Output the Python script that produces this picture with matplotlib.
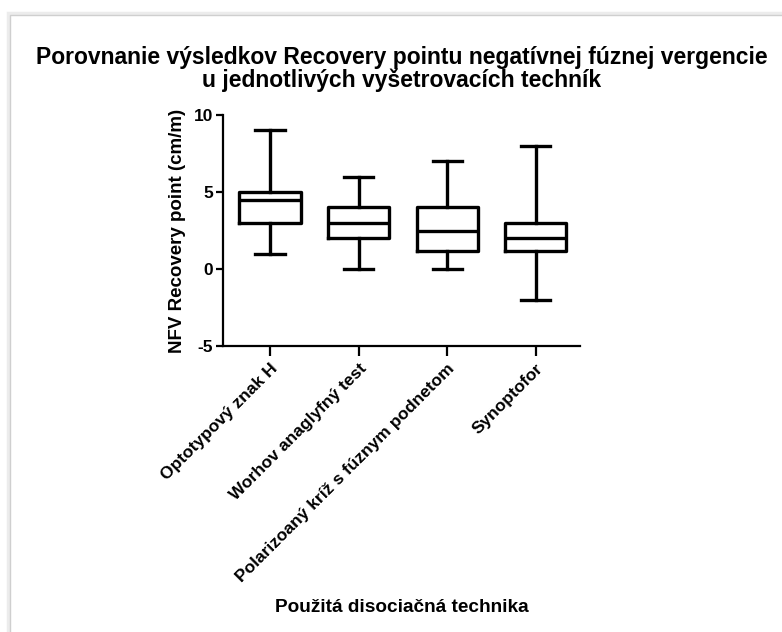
import matplotlib
matplotlib.use("Agg")
import matplotlib.pyplot as plt
from matplotlib.patches import Rectangle

categories = ["Optotypový znak H", "Worhov anaglyfný test",
              "Polarizoaný kríž s fúznym podnetom", "Synoptofor"]
whisker_low = [1, 0, 0, -2]
q1 = [3, 2, 1.2, 1.2]
median = [4.5, 3, 2.5, 2]
q3 = [5, 4, 4, 3]
whisker_high = [9, 6, 7, 8]

title = "Porovnanie výsledkov Recovery pointu negatívnej fúznej vergencie\nu jednotlivých vyšetrovacích techník"
ylabel = "NFV Recovery point (cm/m)"
xlabel = "Použitá disociačná technika"
yticks = [-5, 0, 5, 10]

plt.rcParams['font.family'] = ['Liberation Sans', 'DejaVu Sans']
plt.rcParams['font.weight'] = 'bold'

W, H = 782, 632
fig = plt.figure(figsize=(W / 100, H / 100), dpi=100)

# card frame
fig.patches.append(Rectangle((8 / W, -0.05), 1.2, 1 - 13 / H + 0.05, transform=fig.transFigure,
                             facecolor='none', edgecolor='#ececec', lw=2.5, zorder=0))
fig.patches.append(Rectangle((10 / W, -0.05), 1.2, 1 - 15 / H + 0.05, transform=fig.transFigure,
                             facecolor='white', edgecolor='#cfcfcf', lw=1.0, zorder=1))

ax = fig.add_axes([223 / W, 1 - 346 / H, (580 - 223) / W, (346 - 115) / H])
ax.set_zorder(2)
ax.patch.set_alpha(0)

stats = []
for i, c in enumerate(categories):
    stats.append(dict(label=c, whislo=whisker_low[i], q1=q1[i], med=median[i],
                      q3=q3[i], whishi=whisker_high[i], fliers=[]))

lw = 2.4
ax.bxp(stats, positions=range(len(categories)), widths=0.69, showfliers=False,
       boxprops=dict(color='black', lw=lw),
       medianprops=dict(color='black', lw=lw),
       whiskerprops=dict(color='black', lw=lw),
       capprops=dict(color='black', lw=lw),
       capwidths=0.33)

ax.set_xlim(-0.53, 3.5)
ax.set_ylim(-5, 10)
ax.set_yticks(yticks)
ax.set_yticklabels([str(t) for t in yticks])
ax.set_xticks(range(len(categories)))
ax.set_xticklabels(categories, rotation=45, ha='right', rotation_mode='anchor')
for s in ['top', 'right']:
    ax.spines[s].set_visible(False)
for s in ['left', 'bottom']:
    ax.spines[s].set_linewidth(1.6)
ax.tick_params(axis='y', width=1.6, length=5, labelsize=12.5, pad=2)
ax.tick_params(axis='x', width=1.6, length=7, labelsize=12.5, pad=4)
ax.set_ylabel(ylabel, fontsize=13.5, fontweight='bold', labelpad=6)

fig.text(402 / W, 1 - 69 / H, title, ha='center', va='center', fontsize=16.5,
         fontweight='bold', linespacing=1.0)
fig.text(402 / W, 1 - 607 / H, xlabel, ha='center', va='center', fontsize=13.7,
         fontweight='bold')

fig.savefig("out.png", dpi=100, facecolor='white')
